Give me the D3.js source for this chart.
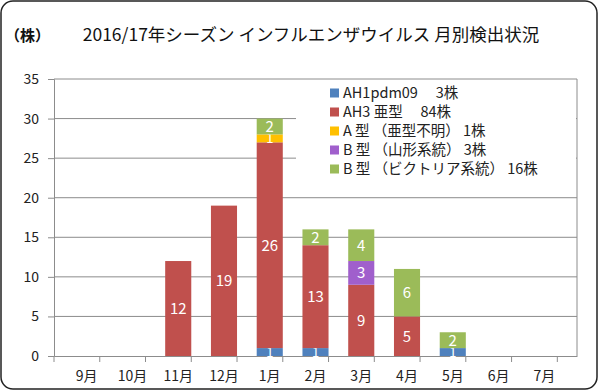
<!DOCTYPE html>
<html>
<head>
<meta charset="utf-8">
<script src="https://cdn.jsdelivr.net/npm/d3@7"></script>
<style>
  body { margin: 0; background: #fff; }
  text { font-family: "Noto Sans CJK JP", "Noto Sans", sans-serif; }
</style>
</head>
<body>
<script>
const months = ['9月', '10月', '11月', '12月', '1月', '2月', '3月', '4月', '5月', '6月', '7月'];
const ah1pdm = [0, 0, 0, 0, 1, 1, 0, 0, 1, 0, 0];
const ah3 = [0, 0, 12, 19, 26, 13, 9, 5, 0, 0, 0];
const aUnknown = [0, 0, 0, 0, 1, 0, 0, 0, 0, 0, 0];
const bYamagata = [0, 0, 0, 0, 0, 0, 3, 0, 0, 0, 0];
const bVictoria = [0, 0, 0, 0, 2, 2, 4, 6, 2, 0, 0];
const seriesNames = ['AH1pdm09　 3株', 'AH3 亜型　 84株', 'A 型 （亜型不明） 1株', 'B 型 （山形系統） 3株', 'B 型 （ビクトリア系統） 16株'];
const yTicks = [0, 5, 10, 15, 20, 25, 30, 35];

const colors = ['#4f81bd', '#c0504d', '#ffc000', '#a05fcc', '#9bbb59'];
const seriesData = [ah1pdm, ah3, aUnknown, bYamagata, bVictoria];

const width = 598;
const height = 390;
const margin = { top: 79, right: 21, bottom: 34, left: 54 };

const svg = d3.select('body')
  .append('svg')
    .attr('width', width)
    .attr('height', height);

// outer rounded frame
svg.append('rect')
  .attr('x', 1).attr('y', 1)
  .attr('width', width - 2).attr('height', height - 2)
  .attr('rx', 12).attr('ry', 12)
  .attr('fill', '#fff')
  .attr('stroke', '#222')
  .attr('stroke-width', 1.5);

svg.append('text')
  .text('（株）')
  .attr('x', 5).attr('y', 41)
  .attr('font-size', 15)
  .attr('font-weight', 'bold')
  .attr('fill', '#111');

svg.append('text')
  .text('2016/17年シーズン インフルエンザウイルス 月別検出状況')
  .attr('x', 311).attr('y', 41)
  .attr('text-anchor', 'middle')
  .attr('font-size', 17.5)
  .attr('fill', '#111');

const x = d3.scaleBand()
  .domain(months)
  .range([margin.left, width - margin.right])
  .padding(0.43);

const y = d3.scaleLinear()
  .domain([0, 35])
  .range([height - margin.bottom, margin.top]);

// gridlines
svg.append('g')
  .selectAll('line')
  .data(yTicks.filter(d => d > 0))
  .enter()
  .append('line')
    .attr('x1', margin.left).attr('x2', width - margin.right)
    .attr('y1', d => y(d)).attr('y2', d => y(d))
    .attr('stroke', '#8c8c8c');

// right border of plot area
svg.append('line')
  .attr('x1', width - margin.right).attr('x2', width - margin.right)
  .attr('y1', y(35)).attr('y2', y(0))
  .attr('stroke', '#8c8c8c');

const yAxis = svg.append('g')
  .attr('transform', `translate(${margin.left},0)`)
  .call(d3.axisLeft(y).tickValues(yTicks).tickSize(6).tickPadding(9));
yAxis.selectAll('line, path').attr('stroke', '#8c8c8c');
yAxis.selectAll('text').attr('font-size', 14).attr('fill', '#222')
  .style('font-family', '"Noto Sans CJK JP", sans-serif');

const xAxis = svg.append('g')
  .attr('transform', `translate(0,${y(0)})`)
  .call(d3.axisBottom(x).tickSize(0).tickPadding(15));
xAxis.selectAll('path').attr('stroke', '#8c8c8c');
xAxis.selectAll('text').attr('font-size', 14).attr('fill', '#222')
  .style('font-family', '"Noto Sans CJK JP", sans-serif');

// category boundary ticks
const step = x.step();
svg.append('g')
  .selectAll('line')
  .data(d3.range(months.length + 1))
  .enter()
  .append('line')
    .attr('x1', i => margin.left + i * step)
    .attr('x2', i => margin.left + i * step)
    .attr('y1', y(0)).attr('y2', y(0) + 6)
    .attr('stroke', '#8c8c8c');

// stacked bars
const table = months.map((m, i) => {
  const row = { month: m };
  seriesData.forEach((s, k) => { row['s' + k] = s[i]; });
  return row;
});
const keys = seriesData.map((s, k) => 's' + k);
const stacked = d3.stack().keys(keys)(table);

const layers = svg.append('g')
  .selectAll('g')
  .data(stacked)
  .enter()
  .append('g')
    .attr('fill', (d, k) => colors[k]);

layers.selectAll('rect')
  .data(d => d.filter(p => p[1] > p[0]))
  .enter()
  .append('rect')
    .attr('x', d => x(d.data.month))
    .attr('y', d => y(d[1]))
    .attr('width', x.bandwidth())
    .attr('height', d => y(d[0]) - y(d[1]));

layers.selectAll('text')
  .data(d => d.filter(p => p[1] > p[0]))
  .enter()
  .append('text')
    .text(d => d[1] - d[0])
    .attr('x', d => x(d.data.month) + x.bandwidth() / 2)
    .attr('y', d => (y(d[0]) + y(d[1])) / 2)
    .attr('dy', '0.36em')
    .attr('text-anchor', 'middle')
    .attr('font-size', d => (d[1] - d[0] === 1 ? 13 : 15))
    .attr('fill', '#fff');

// legend
const legend = svg.append('g');
legend.append('rect')
  .attr('x', 296).attr('y', y(35) + 1)
  .attr('width', width - margin.right - 296 - 1)
  .attr('height', 104)
  .attr('fill', '#fff');

const items = legend.selectAll('g.item')
  .data(seriesNames)
  .enter()
  .append('g')
    .attr('class', 'item')
    .attr('transform', (d, i) => `translate(330,${93 + i * 19})`);

items.append('rect')
  .attr('x', 0).attr('y', -4.5)
  .attr('width', 9).attr('height', 9)
  .attr('fill', (d, i) => colors[i]);

items.append('text')
  .text(d => d)
  .attr('x', 13)
  .attr('dy', '0.36em')
  .attr('font-size', 14.5)
  .attr('fill', '#222');
</script>
</body>
</html>
